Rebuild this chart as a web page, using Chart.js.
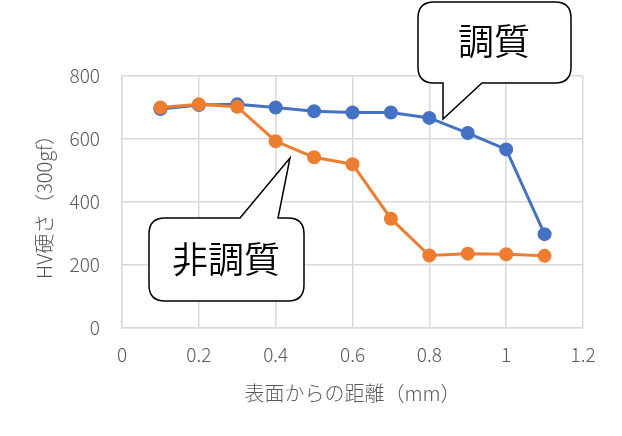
<!DOCTYPE html>
<html>
<head>
<meta charset="utf-8">
<script src="https://cdn.jsdelivr.net/npm/chart.js@4.4.1/dist/chart.umd.min.js"></script>
<style>
  body { margin: 0; background: #fff; }
  #wrap { width: 622px; height: 436px; }
</style>
</head>
<body>
<div id="wrap"><canvas id="hv" width="622" height="436"></canvas></div>
<script>
// 表面からの距離 (mm)
const distance = [0.1, 0.2, 0.3, 0.4, 0.5, 0.6, 0.7, 0.8, 0.9, 1.0, 1.1];
// 調質
const tempered = [695, 708, 710, 700, 688, 684, 684, 667, 619, 567, 298];
// 非調質
const untempered = [700, 710, 702, 593, 542, 520, 347, 230, 236, 234, 229];

const xTitle = "表面からの距離（mm）";
const yTitle = "HV硬さ（300gf）";

const font = "'Noto Sans CJK JP', 'Noto Sans', sans-serif";
const grey = "#595959";

function pts(ys) {
  return distance.map((x, i) => ({ x: x, y: ys[i] }));
}

// callout boxes drawn on top of the chart
function roundedCallout(ctx, box, pointer, r) {
  const { x0, y0, x1, y1 } = box;
  ctx.beginPath();
  ctx.moveTo(x0 + r, y0);
  if (pointer.edge === "top") {
    ctx.lineTo(pointer.a, y0);
    ctx.lineTo(pointer.tx, pointer.ty);
    ctx.lineTo(pointer.b, y0);
  }
  ctx.lineTo(x1 - r, y0);
  ctx.quadraticCurveTo(x1, y0, x1, y0 + r);
  ctx.lineTo(x1, y1 - r);
  ctx.quadraticCurveTo(x1, y1, x1 - r, y1);
  if (pointer.edge === "bottom") {
    ctx.lineTo(pointer.a, y1);
    ctx.lineTo(pointer.tx, pointer.ty);
    ctx.lineTo(pointer.b, y1);
  }
  ctx.lineTo(x0 + r, y1);
  ctx.quadraticCurveTo(x0, y1, x0, y1 - r);
  ctx.lineTo(x0, y0 + r);
  ctx.quadraticCurveTo(x0, y0, x0 + r, y0);
  ctx.closePath();
  ctx.fillStyle = "#fff";
  ctx.fill();
  ctx.lineWidth = 1.5;
  ctx.strokeStyle = "#000";
  ctx.stroke();
}

const callouts = {
  id: "callouts",
  afterDraw(chart) {
    const ctx = chart.ctx;
    ctx.save();
    roundedCallout(ctx, { x0: 418, y0: 2, x1: 571, y1: 83 },
      { edge: "bottom", a: 482, tx: 443, ty: 119, b: 443 }, 16);
    roundedCallout(ctx, { x0: 149, y0: 218, x1: 304, y1: 301 },
      { edge: "top", a: 240, tx: 290, ty: 158, b: 278 }, 16);
    ctx.fillStyle = "#000";
    ctx.font = "350 36px " + font;
    ctx.textAlign = "center";
    ctx.textBaseline = "middle";
    ctx.fillText("調質", 494, 41);
    ctx.fillText("非調質", 226, 259);
    ctx.restore();
  }
};

new Chart(document.getElementById("hv"), {
  type: "line",
  data: {
    datasets: [
      {
        label: "調質",
        data: pts(tempered),
        borderColor: "#4472C4",
        backgroundColor: "#4472C4",
        borderWidth: 3,
        pointRadius: 5.5,
        pointHoverRadius: 5.5,
        order: 1
      },
      {
        label: "非調質",
        data: pts(untempered),
        borderColor: "#ED7D31",
        backgroundColor: "#ED7D31",
        borderWidth: 3,
        pointRadius: 5.5,
        pointHoverRadius: 5.5,
        order: 0
      }
    ]
  },
  options: {
    responsive: false,
    animation: false,
    layout: { padding: { top: 76, right: 39, left: 0, bottom: 0 } },
    plugins: { legend: { display: false }, tooltip: { enabled: false } },
    scales: {
      x: {
        type: "linear",
        min: 0,
        max: 1.2,
        afterFit(s) { s.height = 108; },
        ticks: {
          stepSize: 0.2,
          padding: 15,
          color: grey,
          font: { family: font, size: 19, weight: 300 },
          callback: v => String(Math.round(v * 10) / 10)
        },
        grid: { color: "#d9d9d9", lineWidth: 1.5, drawTicks: false },
        border: { color: "#d9d9d9", width: 1.5 },
        title: {
          display: true,
          text: xTitle,
          color: grey,
          font: { family: font, size: 20, weight: 300 },
          padding: { top: 0, bottom: 31 }
        }
      },
      y: {
        min: 0,
        max: 800,
        afterFit(s) { s.width = 122; },
        ticks: {
          stepSize: 200,
          padding: 22,
          color: grey,
          font: { family: font, size: 19, weight: 300 }
        },
        grid: { color: "#d9d9d9", lineWidth: 1.5, drawTicks: false },
        border: { color: "#d9d9d9", width: 1.5 },
        title: {
          display: true,
          text: yTitle,
          color: grey,
          font: { family: font, size: 20, weight: 300 },
          padding: { top: 32, bottom: 0 }
        }
      }
    }
  },
  plugins: [callouts]
});
</script>
</body>
</html>
